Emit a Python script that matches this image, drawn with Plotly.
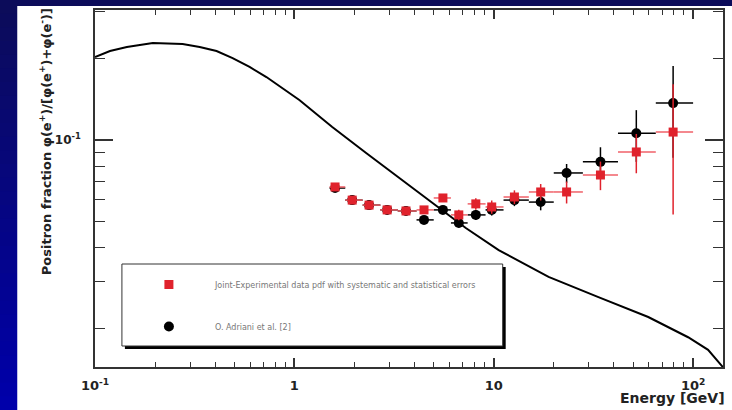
import plotly.graph_objects as go

# ---------------- data ----------------
curve_E = [0.1, 0.1189, 0.1445, 0.195, 0.275, 0.335, 0.407, 0.490, 0.596, 0.724, 1.059, 1.549,
           2.291, 3.350, 4.898, 7.244, 10.59, 18.84, 33.50, 59.57, 94.4, 118.9, 141.3]
curve_f = [0.2029, 0.2136, 0.2210, 0.2287, 0.2268, 0.2210, 0.2136, 0.2012, 0.1864, 0.1711, 0.1406,
           0.1117, 0.0895, 0.0723, 0.0584, 0.0472, 0.0391, 0.0311, 0.0262, 0.0221, 0.0186, 0.0167, 0.0144]

E_mid = [1.60, 1.95, 2.37, 2.92, 3.63, 4.47, 5.56, 6.68, 8.13, 9.77, 12.7, 17.2, 23.2, 34.3, 51.9, 79.4]
E_lo = [1.5, 1.8, 2.2, 2.7, 3.3, 4.1, 5.0, 6.1, 7.4, 9.1, 11.2, 15, 20, 28, 42, 65]
E_hi = [1.8, 2.2, 2.7, 3.3, 4.1, 5.0, 6.1, 7.4, 9.1, 11.2, 15, 20, 28, 42, 65, 100]

red_f = [0.0670, 0.0599, 0.0574, 0.0551, 0.0546, 0.0551, 0.0610, 0.0528, 0.0580, 0.0565,
         0.0615, 0.0642, 0.0642, 0.0742, 0.0903, 0.1070]
red_err = [0.0015, 0.0013, 0.0013, 0.0013, 0.0014, 0.0016, 0.0020, 0.0024, 0.0028, 0.0032,
           0.0036, 0.0045, 0.0060, 0.0090, 0.0150, 0.0540]

blk_f = [0.0664, 0.0599, 0.0574, 0.0551, 0.0546, 0.0506, 0.0551, 0.0493, 0.0528, 0.0551,
         0.0599, 0.0589, 0.0755, 0.0830, 0.1060, 0.1370]
blk_err = [0.0015, 0.0013, 0.0012, 0.0012, 0.0012, 0.0014, 0.0016, 0.0019, 0.0022, 0.0026,
           0.0030, 0.0040, 0.0060, 0.0110, 0.0230, 0.0510]

x_major = [0.1, 1, 10, 100]
x_major_text = ["10<sup>-1</sup>", "1", "10", "10<sup>2</sup>"]
x_minor = [0.2, 0.3, 0.4, 0.5, 0.6, 0.7, 0.8, 0.9, 2, 3, 4, 5, 6, 7, 8, 9,
           20, 30, 40, 50, 60, 70, 80, 90]
y_major = [0.1]
y_major_text = ["10<sup>-1</sup>"]
y_minor = [0.02, 0.03, 0.04, 0.05, 0.06, 0.07, 0.08, 0.09, 0.2, 0.3]

red_name = "Joint-Experimental data pdf with systematic and statistical errors"
blk_name = "O. Adriani et al. [2]"

# ---------------- figure ----------------
W, H = 732, 410
L, R, T, B = 95, 7, 10, 43
pw, ph = W - L - R, H - T - B


def px(x):
    return (x - L) / pw


def py(y):
    return (H - B - y) / ph


fig = go.Figure()

fig.add_trace(go.Scatter(x=curve_E, y=curve_f, mode="lines", line=dict(color="black", width=2),
                         showlegend=False, hoverinfo="skip"))

ex_plus_b = [h - m for h, m in zip(E_hi, E_mid)]
ex_minus_b = [m - l for m, l in zip(E_mid, E_lo)]

fig.add_trace(go.Scatter(
    x=E_mid, y=blk_f, mode="markers", name=blk_name, legendgroup="b", legendrank=2,
    marker=dict(symbol="circle", size=10, color="black"),
    error_y=dict(type="data", array=blk_err, color="black", thickness=1.5, width=0),
    error_x=dict(type="data", array=ex_plus_b, arrayminus=ex_minus_b, color="black", thickness=1.5, width=0),
))
fig.add_trace(go.Scatter(
    x=E_mid, y=red_f, mode="markers", name=red_name, legendgroup="a", legendrank=1,
    marker=dict(symbol="square", size=9, color="#e0222c"),
    error_y=dict(type="data", array=red_err, color="#e0222c", thickness=1.5, width=0),
    error_x=dict(type="data", array=ex_plus_b, arrayminus=ex_minus_b, color="#f06068", thickness=1.5, width=0),
))

shapes = []
# blue gradient background
n = 30
for i in range(n):
    t = i / (n - 1)
    r = int(12 * (1 - t))
    g = int(12 * (1 - t))
    b = int(90 + (170 - 90) * t)
    shapes.append(dict(type="rect", xref="paper", yref="paper", layer="below",
                       x0=px(-5), x1=px(W + 5), y0=py(H * (i + 1) / n + 1), y1=py(H * i / n),
                       fillcolor=f"rgb({r},{g},{b})", line=dict(width=0)))
# white panel
shapes.append(dict(type="rect", xref="paper", yref="paper", layer="below",
                   x0=px(17), x1=px(W + 5), y0=py(H + 5), y1=py(6),
                   fillcolor="white", line=dict(width=0)))
# legend box with shadow
shapes.append(dict(type="rect", xref="paper", yref="paper", layer="above",
                   x0=px(125), x1=px(507), y0=py(349), y1=py(267),
                   fillcolor="black", line=dict(width=0)))
shapes.append(dict(type="rect", xref="paper", yref="paper", layer="above",
                   x0=px(122), x1=px(504), y0=py(346), y1=py(264),
                   fillcolor="white", line=dict(color="#333", width=1)))

annotations = [
    dict(text="Positron fraction φ(e<sup>+</sup>)/[φ(e<sup>+</sup>)+φ(e<sup>-</sup>)]",
         xref="paper", yref="paper", x=px(45), y=py(142), textangle=-90,
         xanchor="center", yanchor="middle", showarrow=False,
         font=dict(family="DejaVu Sans", size=13, color="#222", weight="bold")),
    dict(text="Energy [GeV]", xref="paper", yref="paper", x=px(729), y=py(398),
         xanchor="right", yanchor="middle", showarrow=False,
         font=dict(family="DejaVu Sans", size=14, color="#222", weight="bold")),
]

axis_common = dict(type="log", showgrid=False, zeroline=False, showline=True, linecolor="#333",
                   linewidth=1.5, mirror="ticks", ticks="inside", tickcolor="#333", tickwidth=1.5,
                   tickmode="array")

fig.update_xaxes(**axis_common, range=[-1, 2.15], tickvals=x_major, ticktext=x_major_text,
                 ticklen=9, ticklabelstandoff=6,
                 tickfont=dict(family="DejaVu Sans", size=13, color="#222", weight="bold"),
                 minor=dict(tickmode="array", tickvals=x_minor, ticks="inside", ticklen=5,
                            tickwidth=1.2, tickcolor="#333"))
fig.update_yaxes(**axis_common, range=[-1.8407, -0.5185], tickvals=y_major, ticktext=y_major_text,
                 ticklen=18, ticklabelstandoff=10,
                 tickfont=dict(family="DejaVu Sans", size=12, color="#222", weight="bold"),
                 minor=dict(tickmode="array", tickvals=y_minor, ticks="inside", ticklen=10,
                            tickwidth=1.2, tickcolor="#333"))

fig.update_layout(
    width=W, height=H, autosize=False,
    margin=dict(l=L, r=R, t=T, b=B),
    paper_bgcolor="#00008a", plot_bgcolor="white",
    shapes=shapes, annotations=annotations,
    showlegend=True,
    legend=dict(x=px(123), y=py(270), xanchor="left", yanchor="top",
                bgcolor="rgba(0,0,0,0)", borderwidth=0, itemwidth=82,
                tracegroupgap=23, traceorder="grouped",
                font=dict(family="DejaVu Sans", size=8, color="#777")),
)

fig.write_html("out.html", config={"displayModeBar": False},
               post_script="document.body.style.margin='0';document.body.style.overflow='hidden';")
